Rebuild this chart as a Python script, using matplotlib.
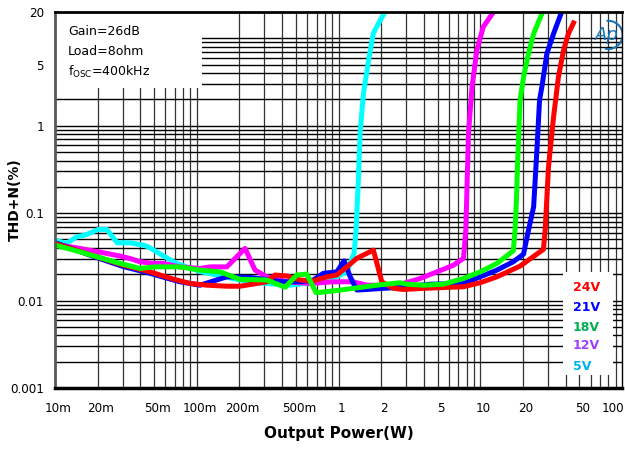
import matplotlib
matplotlib.use("Agg")
import matplotlib.pyplot as plt
from matplotlib.patches import Rectangle, Arc
from matplotlib.transforms import ScaledTranslation

# data (output power in W, THD+N in %)
p_24v = [0.01, 0.0197, 0.0303, 0.0468, 0.0684, 0.0897, 0.118, 0.163, 0.202, 0.312, 0.357, 0.432,
         0.536, 0.665, 0.827, 0.973, 1.145, 1.346, 1.763, 2.02, 2.44, 2.87, 3.97, 7.61, 10.0, 13.1,
         19.1, 27.9, 28.7, 30.3, 32.9, 35.6, 38.7, 41.9, 45.5]
thd_24v = [0.045, 0.0317, 0.0254, 0.0213, 0.0176, 0.0157, 0.0150, 0.0146, 0.0146, 0.0164, 0.0196, 0.0191,
           0.0172, 0.0168, 0.0187, 0.0196, 0.0243, 0.0304, 0.0378, 0.0164, 0.0138, 0.0134, 0.0138, 0.0144,
           0.0160, 0.0187, 0.0248, 0.0385, 0.064, 0.338, 1.26, 3.61, 7.3, 11.3, 15.0]

p_21v = [0.01, 0.0197, 0.0303, 0.0468, 0.0684, 0.0762, 0.1055, 0.138, 0.163, 0.238, 0.409, 0.536,
         0.665, 0.782, 0.973, 1.096, 1.21, 1.346, 1.585, 2.07, 2.72, 4.43, 7.61, 10.0, 13.1, 17.1,
         20.2, 21.9, 23.8, 25.1, 26.2, 27.2, 29.5, 32.9, 37.1]
thd_21v = [0.046, 0.031, 0.0245, 0.0205, 0.0172, 0.0164, 0.0150, 0.0172, 0.0187, 0.0184, 0.0164, 0.0164,
           0.0172, 0.0205, 0.0213, 0.0285, 0.0187, 0.0132, 0.0134, 0.0138, 0.0142, 0.0154, 0.0157, 0.0187,
           0.0223, 0.0278, 0.034, 0.064, 0.118, 0.525, 1.96, 2.77, 6.68, 11.3, 19.1]

p_18v = [0.01, 0.0150, 0.0197, 0.0288, 0.0398, 0.0508, 0.0762, 0.1055, 0.146, 0.202, 0.312, 0.420,
         0.508, 0.597, 0.695, 0.920, 1.274, 1.864, 2.72, 3.03, 3.97, 5.5, 7.61, 10.0, 13.1, 17.1,
         17.6, 18.0, 18.3, 19.1, 20.2, 21.9, 23.8, 27.5]
thd_18v = [0.0431, 0.0361, 0.0317, 0.0266, 0.0233, 0.0243, 0.0243, 0.0223, 0.0213, 0.0175, 0.0172, 0.0142,
           0.0196, 0.0201, 0.0123, 0.0129, 0.0138, 0.0150, 0.0160, 0.0154, 0.0150, 0.0154, 0.0179, 0.0213,
           0.0266, 0.0371, 0.064, 0.14, 0.34, 1.96, 3.61, 6.68, 11.3, 20.0]

p_12v = [0.01, 0.0150, 0.0232, 0.0288, 0.0338, 0.0398, 0.0494, 0.0581, 0.0762, 0.1055, 0.124, 0.163,
         0.219, 0.258, 0.312, 0.432, 0.630, 0.916, 1.27, 1.585, 1.97, 2.72, 3.2, 3.77, 4.94, 6.47,
         7.61, 7.91, 8.26, 8.73, 9.46, 10.5, 12.4]
thd_12v = [0.044, 0.0395, 0.0346, 0.0323, 0.0303, 0.0278, 0.0266, 0.0266, 0.0243, 0.0233, 0.0243, 0.0243,
           0.0395, 0.0223, 0.0187, 0.0164, 0.0157, 0.0164, 0.0164, 0.0150, 0.0150, 0.0154, 0.0165, 0.0179,
           0.0213, 0.0254, 0.0304, 0.064, 0.82, 2.68, 7.3, 13.5, 20.0]

p_5v = [0.01, 0.0121, 0.0142, 0.0163, 0.0202, 0.0232, 0.0275, 0.0338, 0.0420, 0.0455, 0.0596, 0.0723,
        0.1055, 0.163, 0.202, 0.280, 0.455, 0.630, 0.873, 1.145, 1.288, 1.331, 1.38, 1.42, 1.50, 1.63,
        1.76, 1.97, 2.13]
thd_5v = [0.0491, 0.0451, 0.0536, 0.0561, 0.0651, 0.0651, 0.0458, 0.0458, 0.0431, 0.0412, 0.0317, 0.0266,
          0.0215, 0.0185, 0.0172, 0.0159, 0.0150, 0.0159, 0.0172, 0.0213, 0.0349, 0.064, 0.238, 0.821, 2.35,
          5.6, 11.4, 16.1, 20.0]

x_ticks = [0.01, 0.02, 0.05, 0.1, 0.2, 0.5, 1, 2, 5, 10, 20, 50, 100]
x_labels = ['10m', '20m', '50m', '100m', '200m', '500m', '1', '2', '5', '10', '20', '50', '100']
y_ticks = [0.001, 0.01, 0.1, 1, 5, 20]
y_labels = ['0.001', '0.01', '0.1', '1', '5', '20']

legend_labels = ['24V', '21V', '18V', '12V', '5V']
legend_colors = ['#ff0000', '#0000ff', '#00b050', '#a040ff', '#00b0f0']

fig = plt.figure(figsize=(6.25, 4.53), dpi=100)
ax = fig.add_axes([55 / 625, 65 / 453, 567 / 625, 376 / 453])
ax.set_xscale('log')
ax.set_yscale('log')
ax.set_xlim(0.01, 100)
ax.set_ylim(0.001, 20)

# grid lines
for dec in [0.01, 0.1, 1, 10]:
    for k in range(1, 10):
        if 0.01 < k * dec < 100:
            ax.axvline(k * dec, color='0.2', lw=0.9, zorder=1)
for dec in [0.001, 0.01, 0.1, 1, 10]:
    for k in range(1, 10):
        if 0.001 < k * dec < 20:
            ax.axhline(k * dec, color='black', lw=1.0, zorder=1)

# curves
lw = 3.6
ax.plot(p_5v, thd_5v, color='#00ffff', lw=lw, zorder=3)
ax.plot(p_12v, thd_12v, color='#ff00ff', lw=lw, zorder=4)
ax.plot(p_21v, thd_21v, color='#0000ff', lw=lw, zorder=5)
ax.plot(p_24v, thd_24v, color='#ff0000', lw=lw, zorder=6)
ax.plot(p_18v, thd_18v, color='#00ff00', lw=lw, zorder=7)

ax.set_xticks(x_ticks)
ax.set_xticklabels(x_labels, family='DejaVu Sans', stretch='condensed', fontsize=9.5)
ax.set_yticks(y_ticks)
ax.set_yticklabels(y_labels, family='DejaVu Sans', stretch='condensed', fontsize=9.5)
ax.minorticks_off()
ax.tick_params(axis='x', length=0, pad=10)
ax.tick_params(axis='y', length=0, pad=8)
xlabs = ax.get_xticklabels()
for lab in xlabs[:-1]:
    lab.set_transform(lab.get_transform() + ScaledTranslation(3 / 100, 0, fig.dpi_scale_trans))
# keep the last label inside the picture
xlabs[-1].set_transform(xlabs[-1].get_transform() + ScaledTranslation(-9 / 100, 0, fig.dpi_scale_trans))

ax.spines['top'].set_linewidth(2)
ax.spines['bottom'].set_linewidth(2.5)
ax.spines['left'].set_linewidth(2)
ax.spines['left'].set_color('0.35')
ax.spines['right'].set_linewidth(1)
for s in ax.spines.values():
    s.set_zorder(10)

ax.set_xlabel('Output Power(W)', fontsize=11, fontweight='bold', labelpad=8)
ax.set_ylabel('THD+N(%)', fontsize=10, fontweight='bold')
ax.yaxis.set_label_coords(-0.058, 0.5)

# info box
ax.add_patch(Rectangle((0, 0.798), 0.259, 0.202, transform=ax.transAxes,
                       facecolor='white', edgecolor='none', zorder=8))
ax.text(0.023, 0.947, 'Gain=26dB', transform=ax.transAxes, fontsize=9, va='center', zorder=9)
ax.text(0.023, 0.894, 'Load=8ohm', transform=ax.transAxes, fontsize=9, va='center', zorder=9)
ax.text(0.023, 0.840, r'f$_{\mathrm{OSC}}$=400kHz', transform=ax.transAxes, fontsize=9,
        va='center', zorder=9)

# legend box
ax.add_patch(Rectangle((0.896, 0.035), 0.088, 0.274, transform=ax.transAxes,
                       facecolor='white', edgecolor='none', zorder=8))
leg_y = [0.266, 0.215, 0.162, 0.112, 0.056]
for lab, col, yy in zip(legend_labels, legend_colors, leg_y):
    ax.text(0.9136, yy, lab, transform=ax.transAxes, color=col, fontsize=9,
            fontweight='bold', va='center', zorder=9)

# AP logo
ax.text(0.9735, 0.939, 'Ap', transform=ax.transAxes, color='#1a75b5', fontsize=13,
        style='italic', ha='center', va='center', zorder=9)
ax.add_patch(Arc((0.976, 0.939), 0.05, 0.075, theta1=-100, theta2=95, transform=ax.transAxes,
                 color='#1a75b5', lw=1.5, zorder=9))

fig.savefig('out.png', dpi=100)
